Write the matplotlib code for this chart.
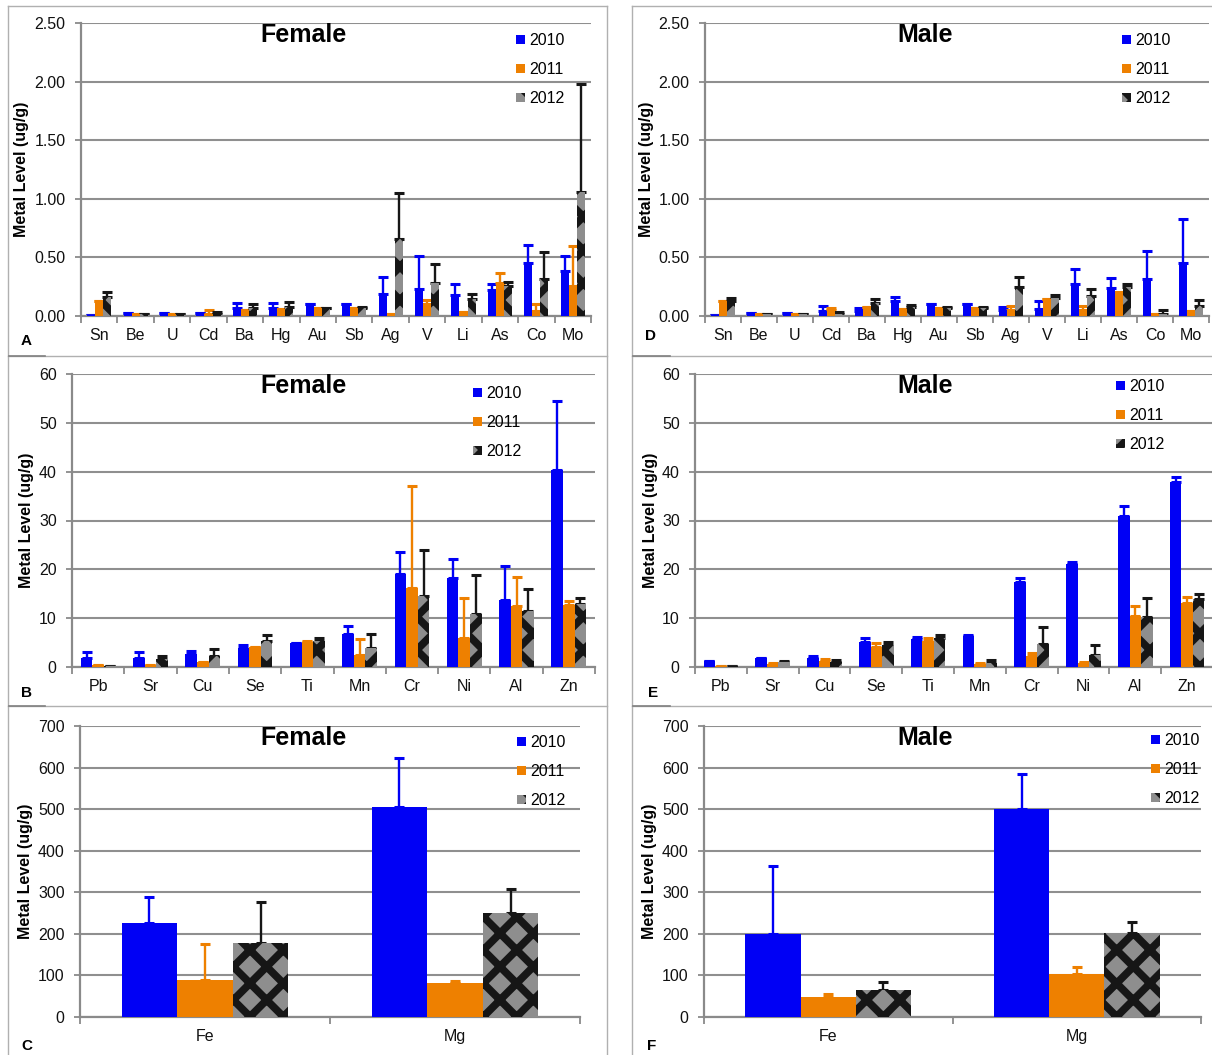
import numpy as np
import matplotlib
matplotlib.use("Agg")
import matplotlib.pyplot as plt
from matplotlib.lines import Line2D
from matplotlib.transforms import blended_transform_factory
from matplotlib.ticker import FixedLocator, NullFormatter

plt.rcParams['font.family'] = ['Liberation Sans', 'DejaVu Sans']
plt.rcParams['hatch.linewidth'] = 5.5

# ---------------- data ----------------
years = ['2010', '2011', '2012']

metals_small = ['Sn', 'Be', 'U', 'Cd', 'Ba', 'Hg', 'Au', 'Sb', 'Ag', 'V', 'Li', 'As', 'Co', 'Mo']
metals_mid = ['Pb', 'Sr', 'Cu', 'Se', 'Ti', 'Mn', 'Cr', 'Ni', 'Al', 'Zn']
metals_big = ['Fe', 'Mg']

# Panel A (female, small metals)
fA_2010 = [0.01, 0.023, 0.026, 0.025, 0.064, 0.065, 0.10, 0.10, 0.19, 0.234, 0.176, 0.225, 0.448, 0.384]
fA_2011 = [0.13, 0.015, 0.015, 0.02, 0.052, 0.06, 0.07, 0.07, 0.02, 0.10, 0.035, 0.28, 0.043, 0.26]
fA_2012 = [0.16, 0.015, 0.015, 0.02, 0.07, 0.08, 0.067, 0.07, 0.656, 0.283, 0.147, 0.257, 0.312, 1.06]
fA_2010_err = [0.0, 0.0, 0.0, 0.0, 0.051, 0.042, 0.0, 0.0, 0.145, 0.276, 0.101, 0.045, 0.162, 0.13]
fA_2011_err = [0.0, 0.0, 0.0, 0.03, 0.0, 0.0, 0.0, 0.0, 0.0, 0.04, 0.0, 0.084, 0.057, 0.34]
fA_2012_err = [0.045, 0.004, 0.004, 0.01, 0.03, 0.038, 0.005, 0.004, 0.39, 0.157, 0.043, 0.029, 0.231, 0.92]

# Panel D (male, small metals)
mD_2010 = [0.01, 0.026, 0.026, 0.043, 0.045, 0.124, 0.10, 0.10, 0.05, 0.06, 0.277, 0.243, 0.312, 0.454]
mD_2011 = [0.13, 0.017, 0.017, 0.05, 0.078, 0.06, 0.072, 0.07, 0.05, 0.145, 0.055, 0.176, 0.017, 0.045]
mD_2012 = [0.125, 0.017, 0.017, 0.02, 0.107, 0.078, 0.068, 0.065, 0.245, 0.15, 0.168, 0.245, 0.02, 0.087]
mD_2010_err = [0.0, 0.0, 0.0, 0.041, 0.023, 0.035, 0.0, 0.0, 0.03, 0.067, 0.128, 0.077, 0.243, 0.376]
mD_2011_err = [0.0, 0.0, 0.0, 0.022, 0.0, 0.0, 0.0, 0.0, 0.035, 0.0, 0.027, 0.032, 0.0, 0.0]
mD_2012_err = [0.03, 0.004, 0.004, 0.012, 0.038, 0.012, 0.008, 0.01, 0.09, 0.03, 0.06, 0.032, 0.03, 0.052]

# Panel B (female, mid metals)
fB_2010 = [1.9, 1.9, 2.74, 3.97, 4.86, 6.7, 18.95, 18.3, 13.8, 40.4]
fB_2011 = [0.34, 0.48, 1.0, 4.0, 5.1, 2.4, 16.1, 5.95, 12.45, 12.7]
fB_2012 = [0.2, 1.57, 2.2, 5.27, 5.3, 3.97, 14.6, 10.8, 11.56, 13.0]
fB_2010_err = [1.18, 1.18, 0.61, 0.63, 0.05, 1.7, 4.55, 3.8, 6.8, 14.0]
fB_2011_err = [0.0, 0.0, 0.0, 0.0, 0.2, 3.3, 21.0, 8.15, 6.05, 0.9]
fB_2012_err = [0.05, 0.73, 1.4, 1.23, 0.6, 2.83, 9.3, 8.0, 4.34, 1.2]

# Panel E (male, mid metals)
mE_2010 = [1.2, 1.78, 1.78, 5.13, 5.68, 6.29, 17.44, 21.07, 30.85, 37.9]
mE_2011 = [0.27, 0.68, 1.23, 4.04, 5.4, 0.7, 2.19, 0.75, 10.4, 13.2]
mE_2012 = [0.2, 1.0, 1.0, 4.58, 5.95, 0.9, 4.79, 2.53, 10.26, 14.0]
mE_2010_err = [0.1, 0.12, 0.48, 0.77, 0.48, 0.21, 0.76, 0.33, 2.05, 1.1]
mE_2011_err = [0.0, 0.12, 0.41, 0.82, 0.55, 0.2, 0.75, 0.35, 2.05, 1.23]
mE_2012_err = [0.05, 0.2, 0.5, 0.48, 0.55, 0.6, 3.35, 1.92, 3.84, 0.9]

# Panel C (female, Fe / Mg)
fC_2010 = [227, 506]
fC_2011 = [89.6, 81.6]
fC_2012 = [177, 249]
fC_2010_err = [61, 117]
fC_2011_err = [84.8, 4.8]
fC_2012_err = [99, 60]

# Panel F (male, Fe / Mg)
mF_2010 = [200, 500]
mF_2011 = [48, 103]
mF_2012 = [65.6, 202]
mF_2010_err = [164, 85]
mF_2011_err = [7, 18]
mF_2012_err = [18.4, 26]

# ---------------- styling ----------------
W, H = 1212, 1055
fig = plt.figure(figsize=(W / 100, H / 100), dpi=100)


def fx(x):
    return x / W


def fy(y):
    return 1 - y / H


BLUE = '#0000F5'
ORANGE = '#EE8000'
PAT_FACE = '#8e8e8e'
PAT_EDGE = '#161616'
GRID = '#8f8f8f'
AXC = '#8a8a8a'
FS = 11.5


def panel(box, cats, s10, s11, s12, e10, e11, e12, ymax, ystep, fmt,
          title, title_x, title_base, leg_x, leg_y, ylab_x, letter, letter_xy):
    left, top, right, bottom = box
    ax = fig.add_axes([fx(left), fy(bottom), (right - left) / W, (bottom - top) / H])
    n = len(cats)
    x = np.arange(n)
    w = 1 / 4.5
    bars = []
    for j, (vals, errs, col) in enumerate([(s10, e10, BLUE), (s11, e11, ORANGE), (s12, e12, PAT_EDGE)]):
        xs = x + (j - 1) * w
        if j < 2:
            b = ax.bar(xs, vals, w, color=col, linewidth=0, zorder=3)
        else:
            b = ax.bar(xs, vals, w, facecolor=PAT_FACE, edgecolor=PAT_EDGE,
                       hatch='x', linewidth=0, zorder=3)
        bars.append(b)
        ax.errorbar(xs, vals, yerr=[np.zeros(n), errs], fmt='none', ecolor=col,
                    elinewidth=1.7, capsize=3.6, capthick=2.2, zorder=2.5)
    ax.set_xlim(-0.5, n - 0.5)
    ax.set_ylim(0, ymax)
    ticks = np.arange(0, ymax + ystep / 2, ystep)
    ax.set_yticks(ticks)
    ax.set_yticklabels([fmt.format(t) for t in ticks])
    ax.set_xticks(x)
    ax.set_xticklabels(cats)
    ax.xaxis.set_minor_locator(FixedLocator(np.arange(-0.5, n, 1.0)))
    ax.xaxis.set_minor_formatter(NullFormatter())
    ax.tick_params(axis='x', which='major', length=0, pad=8.5, labelsize=FS, colors='#111111')
    ax.tick_params(axis='x', which='minor', length=5, width=1.3, color=AXC, direction='out')
    ax.tick_params(axis='y', which='major', length=4, width=1.3, color=AXC, pad=7,
                   labelsize=FS, labelcolor='#111111', direction='out')
    ax.grid(axis='y', color=GRID, linewidth=1.5, zorder=0.5)
    ax.set_axisbelow(True)
    for s in ['top', 'right']:
        ax.spines[s].set_visible(False)
    for s in ['left', 'bottom']:
        ax.spines[s].set_color(AXC)
        ax.spines[s].set_linewidth(1.6)
    ax.set_ylabel('Metal Level (ug/g)', fontsize=11.5, fontweight='bold', va='center')
    ax.yaxis.set_label_coords(fx(ylab_x), 0.5,
                              transform=blended_transform_factory(fig.transFigure, ax.transAxes))
    fig.text(fx(title_x), fy(title_base), title, ha='center', va='baseline',
             fontsize=18, fontweight='bold')
    ax.legend(bars, years, loc='upper left', bbox_to_anchor=(fx(leg_x), fy(leg_y)),
              bbox_transform=fig.transFigure, frameon=False, fontsize=FS,
              handlelength=0.55, handleheight=0.55, handletextpad=0.25,
              labelspacing=0.88, borderpad=0, borderaxespad=0)
    fig.text(fx(letter_xy[0]), fy(letter_xy[1]), letter, ha='center', va='baseline',
             fontsize=11, fontweight='bold')
    return ax


panel((81, 23, 591, 316), metals_small, fA_2010, fA_2011, fA_2012,
      fA_2010_err, fA_2011_err, fA_2012_err, 2.5, 0.5, '{:.2f}',
      'Female', 303, 42, 516, 33, 21.5, 'A', (26.5, 345))
panel((705, 23, 1209, 316), metals_small, mD_2010, mD_2011, mD_2012,
      mD_2010_err, mD_2011_err, mD_2012_err, 2.5, 0.5, '{:.2f}',
      'Male', 925, 42, 1122, 33, 646.5, 'D', (651, 340))
panel((72, 374, 595, 667), metals_mid, fB_2010, fB_2011, fB_2012,
      fB_2010_err, fB_2011_err, fB_2012_err, 60, 10, '{:.0f}',
      'Female', 303, 393, 473, 386, 26.5, 'B', (26.5, 697))
panel((695, 374, 1213, 667), metals_mid, mE_2010, mE_2011, mE_2012,
      mE_2010_err, mE_2011_err, mE_2012_err, 60, 10, '{:.0f}',
      'Male', 925, 393, 1116, 379, 650, 'E', (653, 697))
panel((80, 726, 580, 1017), metals_big, fC_2010, fC_2011, fC_2012,
      fC_2010_err, fC_2011_err, fC_2012_err, 700, 100, '{:.0f}',
      'Female', 303, 745, 517, 735, 25.5, 'C', (26.5, 1050))
panel((704, 726, 1201, 1017), metals_big, mF_2010, mF_2011, mF_2012,
      mF_2010_err, mF_2011_err, mF_2012_err, 700, 100, '{:.0f}',
      'Male', 925, 745, 1151, 733, 649.5, 'F', (652, 1050))

# panel frames
def fline(x0, y0, x1, y1, color='#b0b0b0', lw=1.0):
    fig.add_artist(Line2D([fx(x0), fx(x1)], [fy(y0), fy(y1)], color=color, lw=lw,
                          transform=fig.transFigure))

fline(8, 6, 8, 1055)
fline(607, 6, 607, 1055)
fline(8, 6, 607, 6)
fline(8, 356, 607, 356)
fline(8, 706, 607, 706)
fline(632, 6, 632, 1055)
fline(632, 6, 1212, 6)
fline(632, 356, 1212, 356)
fline(632, 706, 1212, 706)
for yy in (356, 706):
    fline(9, yy, 45, yy, color='#808080', lw=1.2)
    fline(633, yy, 670, yy, color='#808080', lw=1.2)

fig.savefig('out.png', dpi=100)
